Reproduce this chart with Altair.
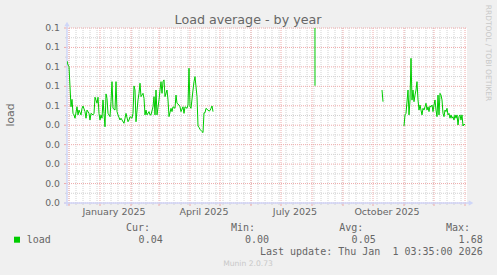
import json
import altair as alt
import pandas as pd

# ---------------- data ----------------
START = "2024-11-29"
END = "2026-01-03"

DAYS1 = [0, 1, 2, 4, 5, 6, 7, 8, 10, 11, 12, 14, 15, 16, 18, 19, 20, 22, 23, 24,
         26, 27, 28, 30, 31, 32, 33, 34, 35, 36, 37, 38, 39, 40, 41, 43, 44, 45, 46,
         48, 49, 50, 51, 53, 54, 55, 57, 58, 59, 61, 62, 63, 65, 66, 67, 68, 69, 71,
         72, 73, 74, 76, 77, 78, 79, 80, 82, 83, 84, 86, 87, 88, 89, 90, 92, 93, 94,
         95, 96, 97, 98, 100, 101, 102, 104, 105, 106, 108, 109, 110, 112, 113, 114,
         116, 117, 118, 120, 121, 122, 123, 124, 126, 127, 128, 130, 131, 132, 133,
         135, 136, 137, 138, 139, 140, 142, 143, 144, 145, 146]
LOAD1 = [0.0730, 0.0710, 0.0701, 0.0495, 0.0533, 0.0461, 0.0453, 0.0436, 0.0495, 0.0453,
         0.0478, 0.0453, 0.0487, 0.0499, 0.0470, 0.0436, 0.0478, 0.0461, 0.0427, 0.0461,
         0.0453, 0.0461, 0.0544, 0.0513, 0.0544, 0.0461, 0.0427, 0.0453, 0.0436, 0.0530,
         0.0461, 0.0392, 0.0561, 0.0538, 0.0461, 0.0444, 0.0521, 0.0624, 0.0487, 0.0478,
         0.0624, 0.0470, 0.0453, 0.0427, 0.0436, 0.0427, 0.0410, 0.0436, 0.0461, 0.0418,
         0.0427, 0.0444, 0.0436, 0.0461, 0.0602, 0.0581, 0.0418, 0.0530, 0.0564, 0.0616,
         0.0547, 0.0564, 0.0538, 0.0453, 0.0478, 0.0453, 0.0470, 0.0453, 0.0453, 0.0495,
         0.0547, 0.0453, 0.0581, 0.0453, 0.0530, 0.0581, 0.0624, 0.0564, 0.0624, 0.0633,
         0.0547, 0.0581, 0.0530, 0.0444, 0.0487, 0.0470, 0.0495, 0.0487, 0.0555, 0.0513,
         0.0504, 0.0495, 0.0470, 0.0495, 0.0461, 0.0495, 0.0487, 0.0504, 0.0693, 0.0495,
         0.0487, 0.0581, 0.0624, 0.0650, 0.0547, 0.0396, 0.0389, 0.0379, 0.0367, 0.0362,
         0.0464, 0.0464, 0.0487, 0.0482, 0.0473, 0.0475, 0.0487, 0.0499, 0.0470]

DAYS2 = [247, 248]
LOAD2 = [1.68, 0.0603]

DAYS3 = [315, 316]
LOAD3 = [0.0581, 0.0521]

DAYS4 = [337, 338, 339, 341, 342, 343, 344, 345, 346, 347, 348, 349, 350, 351, 352,
         353, 354, 355, 356, 357, 358, 359, 360, 361, 362, 363, 364, 365, 366, 367,
         368, 369, 370, 371, 372, 373, 374, 375, 376, 377, 378, 379, 380, 381, 382,
         383, 384, 385, 386, 387, 388, 389, 390, 391, 392, 393, 394, 395, 396, 397, 398]
LOAD4 = [0.0396, 0.0453, 0.0461, 0.0581, 0.0453, 0.0530, 0.0744, 0.0530, 0.0581, 0.0521,
         0.0555, 0.0581, 0.0624, 0.0530, 0.0478, 0.0504, 0.0478, 0.0453, 0.0487, 0.0478,
         0.0495, 0.0513, 0.0478, 0.0495, 0.0470, 0.0499, 0.0495, 0.0504, 0.0470, 0.0504,
         0.0530, 0.0478, 0.0444, 0.0555, 0.0453, 0.0564, 0.0555, 0.0530, 0.0461, 0.0444,
         0.0478, 0.0470, 0.0487, 0.0453, 0.0461, 0.0436, 0.0453, 0.0436, 0.0444, 0.0427,
         0.0453, 0.0436, 0.0453, 0.0401, 0.0444, 0.0453, 0.0427, 0.0453, 0.0396, 0.0406,
         0.0401]

Y_TICKS = [0.00, 0.01, 0.02, 0.03, 0.04, 0.05, 0.06, 0.07, 0.08, 0.09]
Y_LABELS = ["0.0", "0.0", "0.0", "0.0", "0.0", "0.1", "0.1", "0.1", "0.1", "0.1"]
Y_MINOR = [0.005, 0.015, 0.025, 0.035, 0.045, 0.055, 0.065, 0.075, 0.085]
X_LABEL_DATES = ["2025-01-15", "2025-04-15", "2025-07-15", "2025-10-15"]
X_LABELS = ["January 2025", "April 2025", "July 2025", "October 2025"]

TITLE = "Load average - by year"
Y_TITLE = "load"
SERIES = "load"
LEG_HEAD = ["Cur:", "Min:", "Avg:", "Max:"]
LEG_VALS = ["0.04", "0.00", "0.05", "1.68"]
LAST_UPDATE = "Last update: Thu Jan \u00a01 03:35:00 2026"
FOOTER = "Munin 2.0.73"
SIDE = "RRDTOOL / TOBI OETIKER"

# ---------------- helpers ----------------
t0 = pd.Timestamp(START, tz="UTC")
t1 = pd.Timestamp(END, tz="UTC")
DAY = 86400000


def ms(ts):
    return int(pd.Timestamp(ts).timestamp() * 1000)


rows = []
for seg, (dd, vv) in enumerate([(DAYS1, LOAD1), (DAYS2, LOAD2), (DAYS3, LOAD3), (DAYS4, LOAD4)]):
    for d, v in zip(dd, vv):
        rows.append({"t": ms(t0) + d * DAY, "v": v, "seg": seg})
df = pd.DataFrame(rows)

weeks = pd.DataFrame({"t": [ms(x) for x in pd.date_range(t0, t1, freq="W-SUN")]})
months = pd.DataFrame({"t": [ms(x) for x in pd.date_range(t0, t1, freq="MS")]})
ymaj = pd.DataFrame({"v": Y_TICKS, "label": Y_LABELS})
ymin = pd.DataFrame({"v": Y_MINOR})
xlab = pd.DataFrame({"t": [ms(pd.Timestamp(d, tz="UTC")) for d in X_LABEL_DATES],
                     "label": X_LABELS})

xs = alt.Scale(type="utc", domain=[ms(t0), ms(t1)], nice=False)
ys = alt.Scale(domain=[0, 0.09], nice=False, zero=False)

W, H = 400, 175
FONT = "DejaVu Sans"
MONO = "DejaVu Sans Mono"
TXT = "#666666"
GRID = "#d2d2d2"
MGRID = "#eeaaaa"
AXIS = "#CFD6F8"

X = alt.X("t:T", scale=xs, axis=None)
Y = alt.Y("v:Q", scale=ys, axis=None)

minor_x = alt.Chart(weeks).mark_rule(color=GRID, strokeDash=[1, 1], strokeWidth=1).encode(
    x=X, y=alt.value(0), y2=alt.value(H))
minor_xt = alt.Chart(weeks).mark_rule(color=GRID, strokeWidth=1).encode(
    x=X, y=alt.value(H), y2=alt.value(H + 2))
minor_y = alt.Chart(ymin).mark_rule(color=GRID, strokeDash=[1, 1], strokeWidth=1).encode(
    y=Y, x=alt.value(0), x2=alt.value(W))
minor_yt = alt.Chart(ymin).mark_rule(color=GRID, strokeWidth=1).encode(
    y=Y, x=alt.value(-2), x2=alt.value(0))
major_x = alt.Chart(months).mark_rule(color=MGRID, strokeDash=[1, 1], strokeWidth=1).encode(
    x=X, y=alt.value(0), y2=alt.value(H))
major_xt = alt.Chart(months).mark_rule(color=MGRID, strokeWidth=1).encode(
    x=X, y=alt.value(H), y2=alt.value(H + 3))
major_y = alt.Chart(ymaj).mark_rule(color=MGRID, strokeDash=[1, 1], strokeWidth=1).encode(
    y=Y, x=alt.value(0), x2=alt.value(W))
major_yt = alt.Chart(ymaj).mark_rule(color=MGRID, strokeWidth=1).encode(
    y=Y, x=alt.value(-3), x2=alt.value(0))

ylabels = alt.Chart(ymaj).mark_text(font=FONT, fontSize=9.3, color=TXT, align="right",
                                     baseline="middle").encode(
    y=Y, x=alt.value(-7), text="label:N")
xlabels = alt.Chart(xlab).mark_text(font=FONT, fontSize=9.5, color=TXT, align="center",
                                     baseline="middle").encode(
    x=X, y=alt.value(H + 8.5), text="label:N")

one = pd.DataFrame({"a": [0]})
axis_left = alt.Chart(one).mark_rule(color=AXIS, strokeWidth=1.5).encode(
    x=alt.value(0), y=alt.value(-4), y2=alt.value(H + 3))
axis_bottom = alt.Chart(one).mark_rule(color=AXIS, strokeWidth=1.5).encode(
    y=alt.value(H), x=alt.value(-3), x2=alt.value(W + 2))
arrow_up = alt.Chart(one).mark_point(shape="triangle-up", filled=True, color=AXIS, size=28, opacity=1).encode(
    x=alt.value(0), y=alt.value(-4))
arrow_right = alt.Chart(one).mark_point(shape="triangle-right", filled=True, color=AXIS, size=28, opacity=1).encode(
    x=alt.value(W + 4), y=alt.value(H))

line = alt.Chart(df).mark_line(color="#00CC00", strokeWidth=1, clip=True).encode(
    x=X, y=Y, detail="seg:N")


def text(label, x, y, **kw):
    return alt.Chart(pd.DataFrame({"label": [label]})).mark_text(**kw).encode(
        text="label:N", x=alt.value(x), y=alt.value(y))


texts = [
    text(TITLE, 181, -8, font=FONT, fontSize=12.7, color=TXT, align="center", baseline="middle"),
    text(Y_TITLE, -56.5, 87, font=FONT, fontSize=10.8, color=TXT, align="center",
         baseline="middle", angle=270),
    text(SIDE, 421, 25, font=FONT, fontSize=7.5, color="#c8c8c8", align="center",
         baseline="middle", angle=90),
    text(SERIES, -40.3, 211.5, font=MONO, fontSize=10, color=TXT, align="left", baseline="middle"),
    text(LAST_UPDATE, 415.7, 223.7, font=MONO, fontSize=10, color=TXT, align="right",
         baseline="middle"),
    text(FOOTER, 181, 236.3, font=FONT, fontSize=7.6, color="#c8c8c8", align="center",
         baseline="middle"),
]
head_x = [83, 188, 296.3, 403]
val_x = [95.7, 202, 308.7, 415.7]
for h, hx in zip(LEG_HEAD, head_x):
    texts.append(text(h, hx, 199.7, font=MONO, fontSize=10, color=TXT, align="right",
                      baseline="middle"))
for v, vx in zip(LEG_VALS, val_x):
    texts.append(text(v, vx, 211.5, font=MONO, fontSize=10, color=TXT, align="right",
                      baseline="middle"))

legend_box = alt.Chart(one).mark_square(color="#00CC00", size=36, opacity=1).encode(
    x=alt.value(-50), y=alt.value(211.7))

chart = alt.layer(
    minor_x, minor_y, major_x, major_y, minor_xt, minor_yt, major_xt, major_yt,
    axis_left, axis_bottom, arrow_up, arrow_right, line, ylabels, xlabels, legend_box, *texts
).properties(
    width=W, height=H,
    padding={"left": 67, "top": 28, "right": 30, "bottom": 72},
    autosize=alt.AutoSizeParams(type="none"),
    background="#F0F0F0",
).configure_view(stroke=None, fill="#FFFFFF")

chart.save("out.html", embed_options={"renderer": "svg", "actions": False})
